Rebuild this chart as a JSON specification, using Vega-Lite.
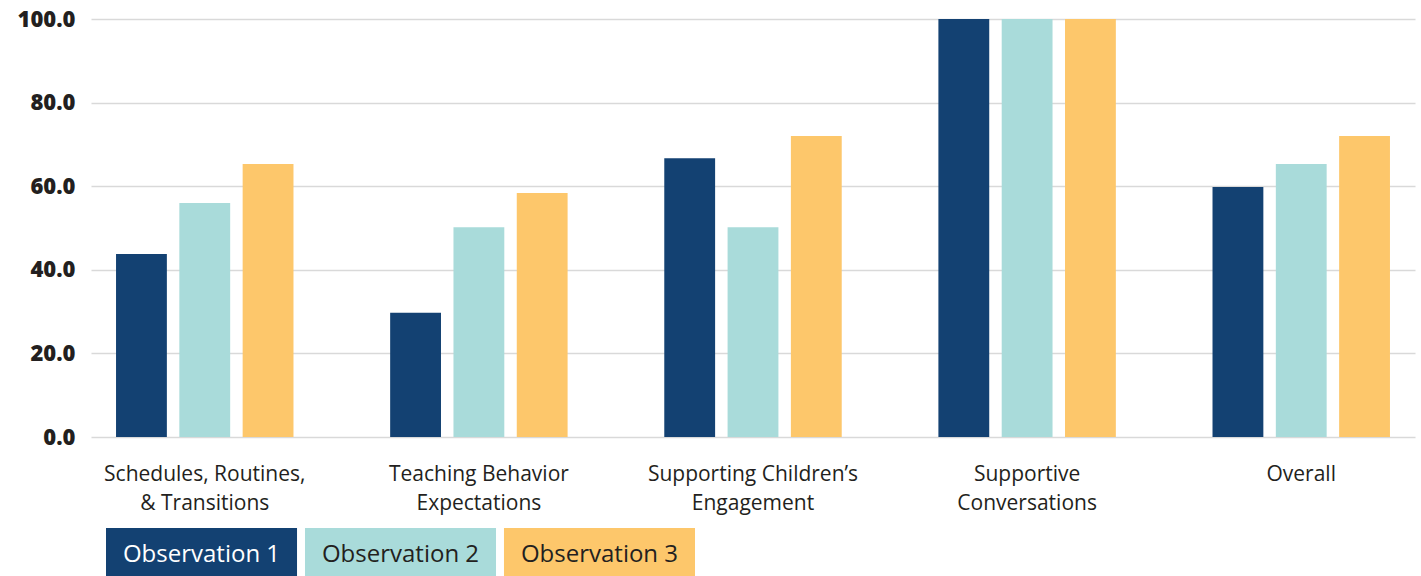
{
  "$schema": "https://vega.github.io/schema/vega-lite/v6.json",
  "background": "white",
  "padding": {"left": 17, "top": 8, "right": 5, "bottom": 0},
  "spacing": 15,
  "config": {"view": {"stroke": null}, "font": "Open Sans"},
  "data": {"values": [
    {"category": "Schedules, Routines, & Transitions", "observation": "Observation 1", "value": 43.8},
    {"category": "Schedules, Routines, & Transitions", "observation": "Observation 2", "value": 56.0},
    {"category": "Schedules, Routines, & Transitions", "observation": "Observation 3", "value": 65.3},
    {"category": "Teaching Behavior Expectations", "observation": "Observation 1", "value": 29.7},
    {"category": "Teaching Behavior Expectations", "observation": "Observation 2", "value": 50.2},
    {"category": "Teaching Behavior Expectations", "observation": "Observation 3", "value": 58.4},
    {"category": "Supporting Children’s Engagement", "observation": "Observation 1", "value": 66.7},
    {"category": "Supporting Children’s Engagement", "observation": "Observation 2", "value": 50.2},
    {"category": "Supporting Children’s Engagement", "observation": "Observation 3", "value": 72.0},
    {"category": "Supportive Conversations", "observation": "Observation 1", "value": 100},
    {"category": "Supportive Conversations", "observation": "Observation 2", "value": 100},
    {"category": "Supportive Conversations", "observation": "Observation 3", "value": 100},
    {"category": "Overall", "observation": "Observation 1", "value": 59.8},
    {"category": "Overall", "observation": "Observation 2", "value": 65.3},
    {"category": "Overall", "observation": "Observation 3", "value": 72.0}
  ]},
  "vconcat": [
    {
      "width": 1324,
      "height": 418,
      "mark": {"type": "bar"},
      "encoding": {
        "x": {
          "field": "category", "type": "nominal",
          "sort": ["Schedules, Routines, & Transitions", "Teaching Behavior Expectations", "Supporting Children’s Engagement", "Supportive Conversations", "Overall"],
          "scale": {"paddingInner": 0.3, "paddingOuter": 0.065},
          "title": null,
          "axis": {
            "domain": false, "ticks": false, "labelAngle": 0, "labelLimit": 0,
            "labelFontSize": 21, "labelColor": "#231f20", "labelPadding": 26,
            "labelLineHeight": 29, "labelBaseline": "top",
            "labelExpr": "datum.value == 'Schedules, Routines, & Transitions' ? ['Schedules, Routines,', '& Transitions'] : datum.value == 'Teaching Behavior Expectations' ? ['Teaching Behavior', 'Expectations'] : datum.value == 'Supporting Children’s Engagement' ? ['Supporting Children’s', 'Engagement'] : datum.value == 'Supportive Conversations' ? ['Supportive', 'Conversations'] : datum.value"
          }
        },
        "xOffset": {
          "field": "observation", "type": "nominal",
          "scale": {"paddingInner": 0.197, "paddingOuter": 0.114}
        },
        "y": {
          "field": "value", "type": "quantitative",
          "scale": {"domain": [0, 100], "nice": false},
          "title": null,
          "axis": {
            "domain": false, "ticks": false, "values": [0, 20, 40, 60, 80, 100],
            "format": ".1f", "labelFontSize": 22, "labelFontWeight": 800,
            "labelColor": "#231f20", "labelPadding": 16,
            "gridColor": "#d9d9d9", "gridWidth": 1.5
          }
        },
        "color": {
          "field": "observation", "type": "nominal",
          "scale": {"domain": ["Observation 1", "Observation 2", "Observation 3"], "range": ["#134172", "#a9dbda", "#fdc76b"]},
          "legend": null
        }
      }
    },
    {
      "width": 604,
      "height": 48,
      "transform": [{"aggregate": [{"op": "count", "as": "n"}], "groupby": ["observation"]}],
      "encoding": {
        "x": {
          "field": "observation", "type": "nominal",
          "scale": {"range": [15, 604], "paddingInner": 0.04, "paddingOuter": 0},
          "axis": null
        }
      },
      "layer": [
        {
          "mark": {"type": "rect"},
          "encoding": {
            "color": {
              "field": "observation", "type": "nominal",
              "scale": {"domain": ["Observation 1", "Observation 2", "Observation 3"], "range": ["#134172", "#a9dbda", "#fdc76b"]},
              "legend": null
            }
          }
        },
        {
          "mark": {"type": "text", "fontSize": 24, "align": "center", "baseline": "middle", "dy": 3},
          "encoding": {
            "text": {"field": "observation"},
            "color": {"condition": {"test": "datum.observation === 'Observation 1'", "value": "#ffffff"}, "value": "#231f20"}
          }
        }
      ]
    }
  ]
}
